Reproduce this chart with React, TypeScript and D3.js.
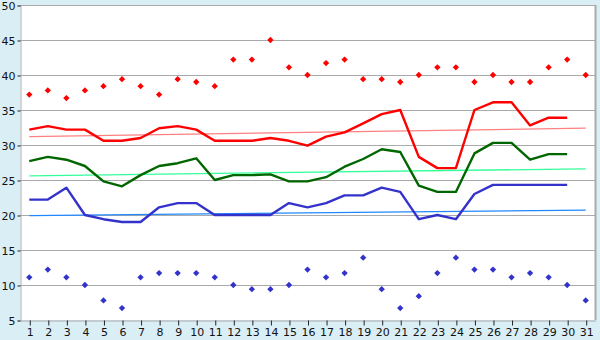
import React, { useEffect, useRef } from 'react';
import * as d3 from 'd3';

const days = d3.range(1, 32).map(String);

// daily max / min readings (diamonds)
const maxPoints = [37.2, 37.8, 36.7, 37.8, 38.4, 39.4, 38.4, 37.2, 39.4, 39.0,
  38.4, 42.2, 42.2, 45.0, 41.1, 40.0, 41.7, 42.2, 39.4, 39.4,
  39.0, 40.0, 41.1, 41.1, 39.0, 40.0, 39.0, 39.0, 41.1, 42.2, 40.0];
const minPoints = [11.1, 12.2, 11.1, 10.0, 7.8, 6.7, 11.1, 11.7, 11.7, 11.7,
  11.1, 10.0, 9.4, 9.4, 10.0, 12.2, 11.1, 11.7, 13.9, 9.4,
  6.7, 8.4, 11.7, 13.9, 12.2, 12.2, 11.1, 11.7, 11.1, 10.0, 7.8];

// lines (days 1..30)
const highLine = [32.2, 32.7, 32.2, 32.2, 30.6, 30.6, 31.0, 32.4, 32.7, 32.2,
  30.6, 30.6, 30.6, 31.0, 30.6, 29.9, 31.2, 31.8, 33.1, 34.4,
  35.0, 28.3, 26.7, 26.7, 35.0, 36.1, 36.1, 32.8, 33.9, 33.9];
const meanLine = [27.7, 28.3, 27.9, 27.0, 24.8, 24.1, 25.7, 27.0, 27.4, 28.1,
  25.0, 25.7, 25.7, 25.8, 24.8, 24.8, 25.4, 26.9, 28.0, 29.4,
  29.0, 24.2, 23.3, 23.3, 28.8, 30.3, 30.3, 27.9, 28.7, 28.7];
const lowLine = [22.2, 22.2, 23.9, 20.0, 19.4, 19.0, 19.0, 21.1, 21.7, 21.7,
  20.0, 20.0, 20.0, 20.0, 21.7, 21.1, 21.7, 22.8, 22.8, 23.9,
  23.3, 19.4, 20.0, 19.4, 23.0, 24.3, 24.3, 24.3, 24.3, 24.3];

// trend lines: value at day 1 and day 31
const highTrend = [31.2, 32.4];
const meanTrend = [25.6, 26.6];
const lowTrend = [19.9, 20.7];

const yTicks = [5, 10, 15, 20, 25, 30, 35, 40, 45, 50];

const App = () => {
  const svgRef = useRef<SVGSVGElement>(null);
  const width = 600;
  const height = 340;

  useEffect(() => {
    const svg = d3.select(svgRef.current);
    svg.selectAll('*').remove();

    const left = 20, right = 595, top = 5, bottom = 320;

    svg.append('rect').attr('width', width).attr('height', height).attr('fill', '#daeef6');
    svg.append('rect')
      .attr('x', left).attr('y', top)
      .attr('width', right - left).attr('height', bottom - top)
      .attr('fill', '#fff');

    const x = d3.scalePoint<string>().domain(days).range([left, right]).padding(0.5);
    const y = d3.scaleLinear().domain([5, 50]).range([bottom, top]);

    // gridlines
    svg.append('g').selectAll('line')
      .data(yTicks.slice(1))
      .enter().append('line')
      .attr('x1', left).attr('x2', right)
      .attr('y1', d => y(d) + 0.5).attr('y2', d => y(d) + 0.5)
      .attr('stroke', '#aaa');

    // frame
    svg.append('line').attr('x1', right + 0.5).attr('x2', right + 0.5).attr('y1', top).attr('y2', bottom)
      .attr('stroke', '#aaa').attr('stroke-width', 2);

    const font = 'DejaVu Sans, Verdana, sans-serif';

    // y axis
    const yAxis = svg.append('g').attr('transform', `translate(${left + 0.5},0.5)`)
      .call(d3.axisLeft(y).tickValues(yTicks).tickSize(3).tickPadding(2));
    yAxis.select('.domain').attr('stroke', '#aaa');
    yAxis.selectAll('line').attr('stroke', '#222');
    yAxis.selectAll('text').attr('font-family', font).attr('font-size', 11).attr('fill', '#111');

    // x axis
    const xAxis = svg.append('g').attr('transform', `translate(0.5,${bottom + 0.5})`)
      .call(d3.axisBottom(x).tickSize(5).tickPadding(3).tickSizeOuter(0));
    xAxis.select('.domain').attr('stroke', '#aaa');
    xAxis.selectAll('line').attr('stroke', '#222');
    xAxis.selectAll('text').attr('font-family', font).attr('font-size', 11).attr('fill', '#111');

    // trend lines
    const trends = [
      { v: highTrend, c: '#ff8080' },
      { v: meanTrend, c: '#33ff99' },
      { v: lowTrend, c: '#2288ff' },
    ];
    trends.forEach(t => {
      svg.append('line')
        .attr('x1', x(days[0])!).attr('x2', x(days[days.length - 1])!)
        .attr('y1', y(t.v[0])).attr('y2', y(t.v[1]))
        .attr('stroke', t.c).attr('stroke-width', 1.3);
    });

    const line = d3.line<number>()
      .x((d, i) => x(days[i])!)
      .y(d => y(d));

    const series = [
      { v: highLine, c: '#ff0000' },
      { v: meanLine, c: '#006600' },
      { v: lowLine, c: '#3333cc' },
    ];
    series.forEach(s => {
      svg.append('path')
        .datum(s.v)
        .attr('fill', 'none')
        .attr('stroke', s.c)
        .attr('stroke-width', 2.4)
        .attr('stroke-linejoin', 'round')
        .attr('d', line);
    });

    // small diamonds (rotated squares)
    const marker = d3.symbol().type(d3.symbolSquare).size(20);
    const dots = [
      { v: maxPoints, c: '#ff0000' },
      { v: minPoints, c: '#3333cc' },
    ];
    dots.forEach(s => {
      svg.append('g').selectAll('path')
        .data(s.v)
        .enter().append('path')
        .attr('transform', (d, i) => `translate(${x(days[i])},${y(d)}) rotate(45)`)
        .attr('d', marker)
        .attr('fill', s.c);
    });
  }, []);

  return (
    <svg ref={svgRef} width={width} height={height}
      style={{ position: 'absolute', left: 0, top: 0 }}></svg>
  );
};

export default App;
